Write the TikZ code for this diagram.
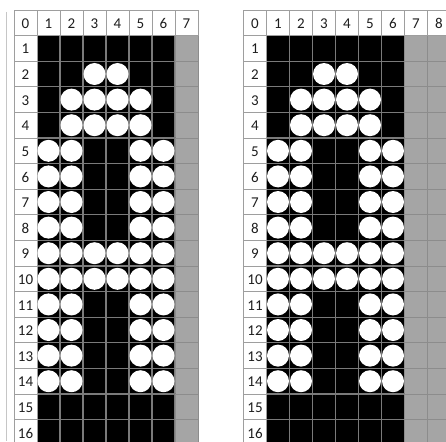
\documentclass[tikz,border=0pt]{standalone}
\usepackage{fontspec}
\setmainfont{Carlito}
\definecolor{hdrline}{HTML}{9E9E9E}
\definecolor{blkline}{HTML}{7A7A7A}
\definecolor{cellgray}{HTML}{A5A5A5}
\definecolor{grayline}{HTML}{8C8C8C}
\definecolor{numcol}{HTML}{1E1E1E}
\tikzset{
  hdrcell/.style={draw=hdrline, fill=white, line width=0.9pt},
  blkcell/.style={draw=blkline, fill=black, line width=1.1pt},
  graycell/.style={draw=grayline, fill=cellgray, line width=1pt},
  num/.style={anchor=base, inner sep=0pt, text=numcol, font=\fontsize{15}{15}\selectfont},
  dot/.style={fill=white}
}
\newcommand\cw{23}
\newcommand\rh{25.6}
% #1 x offset, #2 last column index, #3 name prefix
\newcommand\drawgrid[3]{%
  \foreach \r in {1,...,16}{%
    \foreach \c in {1,...,6}{%
      \path[blkcell] ({#1+\cw*\c},{10+\rh*\r}) rectangle ++(\cw,\rh);
    }
    \foreach \c in {7,...,#2}{%
      \path[graycell] ({#1+\cw*\c},{10+\rh*\r}) rectangle ++(\cw,\rh);
    }
  }
  \foreach \c in {0,...,#2}{%
    \path[hdrcell] ({#1+\cw*\c},10) rectangle ++(\cw,\rh);
    \node[num] (#3c\c) at ({#1+\cw*\c+11.5},{10+\rh-6.8}) {\c};
  }
  \foreach \r in {1,...,16}{%
    \path[hdrcell] (#1,{10+\rh*\r}) rectangle ++(\cw,\rh);
    \node[num] (#3r\r) at ({#1+11.5},{10+\rh*(\r+1)-7.2}) {\r};
  }
  \foreach \r/\cs in {2/{3,4},3/{2,3,4,5},4/{2,3,4,5},5/{1,2,5,6},6/{1,2,5,6},7/{1,2,5,6},8/{1,2,5,6},9/{1,2,3,4,5,6},10/{1,2,3,4,5,6},11/{1,2,5,6},12/{1,2,5,6},13/{1,2,5,6},14/{1,2,5,6}}{%
    \foreach \c in \cs{%
      \fill[dot] ({#1+\cw*\c+11.5},{10+\rh*\r+12.8}) circle (11);
    }
  }
}
\begin{document}
\begin{tikzpicture}[x=1pt,y=-1pt]
\useasboundingbox (0,0) rectangle (446,441);
\clip (0,0) rectangle (446,441);
\fill[white] (0,0) rectangle (446,441);
\coordinate (lt) at (6,12);
\coordinate (lb) at (6,441);
\draw[gray!45, line width=0.8pt] (lt) -- (lb);
\drawgrid{14}{7}{L}
\drawgrid{243.5}{8}{R}
\end{tikzpicture}
\end{document}
